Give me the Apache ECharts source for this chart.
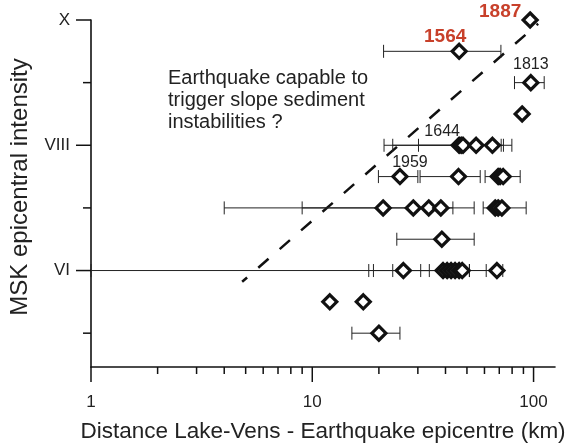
<!DOCTYPE html>
<html><head><meta charset="utf-8">
<script src="https://cdn.jsdelivr.net/npm/echarts/dist/echarts.min.js"></script>
<style>html,body{margin:0;padding:0;background:#fff}#c{width:569px;height:448px}</style>
</head><body><div id="c"></div>
<script>
// ---- axis ranges ----
const X_MIN = 1, X_MAX = 125, Y_MIN = 4.46, Y_MAX = 10;

// ---- observations: MSK intensity, distance (km), distance uncertainty (null = none) ----
const intensity = [10, 9.5, 9, 8.5, 8, 8, 8, 8, 8, 7.5, 7.5, 7.5, 7.5, 7.5, 7, 7, 7, 7, 7, 7, 7, 6.5, 6, 6, 6, 6, 6, 6, 6, 6, 5.5, 5.5, 5];
const distance  = [96.5, 46.1, 97.2, 88.8, 46.1, 47.1, 48.0, 55.0, 65.2, 24.9, 45.8, 69.2, 70.6, 72.9, 20.9, 28.6, 33.6, 38.1, 67.1, 69.2, 71.9, 38.5, 25.8, 39.0, 40.7, 42.4, 44.2, 46.1, 47.6, 68.3, 12.0, 17.0, 20.0];
const distLow   = [null, 21.0, 82.0, null, 21.1, 23.1, null, 30.2, null, 19.9, 30.7, 60.4, null, null, 4.0, 9.0, null, null, null, 59.2, null, 24.1, 18.9, 18.0, null, 23.1, 1.0, 30.9, null, null, null, null, 15.1];
const distHigh  = [null, 71.2, 111.7, null, 79.8, 73.1, null, 71.4, null, 30.0, 57.4, 87.0, null, null, 53.9, 43.2, null, null, null, 92.6, null, 53.9, 33.8, 61.1, null, 51.3, 72.6, 51.3, null, null, null, null, 24.9];

// ---- named events ----
const eventNames     = ['1887', '1564', '1813', '1644', '1959'];
const eventDistance  = [96.5, 46.1, 97.2, 46.1, 24.9];
const eventIntensity = [10, 9.5, 9, 8, 7.5];

// ---- threshold (dashed) line ----
const thresholdDistance  = [4.82, 104.9];
const thresholdIntensity = [5.82, 9.94];

// ---- ticks ----
const xMajorTicks = [1, 10, 100];
const xTickLabels = ['1', '10', '100'];
const xMinorTicks = [2, 3, 4, 5, 6, 7, 8, 9, 20, 30, 40, 50, 60, 70, 80, 90];
const yMajorTicks = [10, 8, 6];
const yTickLabels = ['X', 'VIII', 'VI'];
const yMinorTicks = [9, 7, 5];

// ---- styles ----
const FONT = 'Liberation Sans, Arial, Helvetica, sans-serif';
const INK = '#111';
const TXT = '#222';
const RED = '#c8402a';
const labelStyle = {
  '1887': {color: RED, fontWeight: 'bold', fontSize: 19, offset: [-30, -8]},
  '1564': {color: RED, fontWeight: 'bold', fontSize: 19, offset: [-14, -15]},
  '1813': {color: TXT, fontWeight: 'normal', fontSize: 16, offset: [0, -18]},
  '1644': {color: TXT, fontWeight: 'normal', fontSize: 16, offset: [-17, -14]},
  '1959': {color: TXT, fontWeight: 'normal', fontSize: 16, offset: [10, -14]}
};

const barData = [];
intensity.forEach((y, i) => {
  if (distLow[i] != null) barData.push([distLow[i], distHigh[i], y]);
});
const pointData = intensity.map((y, i) => [distance[i], y]);

function tickSeries(values, len, horizontal) {
  return {
    type: 'custom', silent: true, z: 5,
    data: values.map(v => horizontal ? [X_MIN, v] : [v, Y_MIN]),
    renderItem: (params, api) => {
      const p = api.coord([api.value(0), api.value(1)]);
      return {type: 'line', shape: horizontal
          ? {x1: p[0] - len, y1: p[1], x2: p[0], y2: p[1]}
          : {x1: p[0], y1: p[1], x2: p[0], y2: p[1] + len},
        style: {stroke: INK, lineWidth: 1.5}};
    }
  };
}
function labelSeries(values, labels, horizontal) {
  return {
    type: 'custom', silent: true, z: 5,
    data: values.map((v, i) => horizontal ? [X_MIN, v, i] : [v, Y_MIN, i]),
    renderItem: (params, api) => {
      const p = api.coord([api.value(0), api.value(1)]);
      const t = labels[api.value(2)];
      return {type: 'text', x: horizontal ? p[0] - 21 : p[0], y: horizontal ? p[1] : p[1] + 35,
        style: {text: t, fill: TXT, fontSize: 17, fontFamily: FONT,
          align: horizontal ? 'right' : 'center', verticalAlign: 'middle'}};
    }
  };
}

const chart = echarts.init(document.getElementById('c'), null, {renderer: 'canvas'});
chart.setOption({
  animation: false,
  backgroundColor: '#fff',
  grid: {left: 91, right: 14, top: 20, bottom: 81, containLabel: false, outerBoundsMode: 'none'},
  xAxis: {
    type: 'log', logBase: 10, min: X_MIN, max: X_MAX,
    axisLine: {show: true, onZero: false, lineStyle: {color: INK, width: 1.6}},
    axisTick: {show: false}, axisLabel: {show: false}, splitLine: {show: false},
    name: 'Distance Lake-Vens - Earthquake epicentre (km)', nameLocation: 'middle', nameGap: 53,
    nameTextStyle: {fontSize: 22.5, color: TXT, fontFamily: FONT}
  },
  yAxis: {
    type: 'value', min: Y_MIN, max: Y_MAX,
    axisLine: {show: true, onZero: false, lineStyle: {color: INK, width: 1.6}},
    axisTick: {show: false}, axisLabel: {show: false}, splitLine: {show: false}
  },
  graphic: [{
    type: 'text', left: 168, top: 67, silent: true,
    style: {text: 'Earthquake capable to\ntrigger slope sediment\ninstabilities ?',
      fontSize: 20, fontFamily: FONT, fill: TXT, lineHeight: 22}
  }, {
    type: 'text', x: 20, y: 187, rotation: Math.PI / 2, silent: true,
    style: {text: 'MSK epicentral intensity', fontSize: 24, fontFamily: FONT, fill: TXT,
      align: 'center', verticalAlign: 'middle'}
  }],
  series: [
    tickSeries(xMajorTicks, 15, false),
    tickSeries(xMinorTicks, 7, false),
    tickSeries(yMajorTicks, 15, true),
    tickSeries(yMinorTicks, 8, true),
    labelSeries(xMajorTicks, xTickLabels, false),
    labelSeries(yMajorTicks, yTickLabels, true),
    {
      type: 'line', silent: true, z: 3, symbol: 'none',
      data: thresholdDistance.map((x, i) => [x, thresholdIntensity[i]]),
      lineStyle: {color: INK, width: 2.5, type: [13.6, 14.8], dashOffset: 7}
    },
    {
      type: 'custom', silent: true, z: 4,
      data: barData,
      encode: {x: [0, 1], y: 2},
      renderItem: (params, api) => {
        const a = api.coord([api.value(0), api.value(2)]);
        const b = api.coord([api.value(1), api.value(2)]);
        const h = 6.5;
        const st = {stroke: '#222', lineWidth: 1};
        return {type: 'group', children: [
          {type: 'line', shape: {x1: a[0], y1: a[1], x2: b[0], y2: b[1]}, style: st},
          {type: 'line', shape: {x1: a[0], y1: a[1] - h, x2: a[0], y2: a[1] + h}, style: st},
          {type: 'line', shape: {x1: b[0], y1: b[1] - h, x2: b[0], y2: b[1] + h}, style: st}
        ]};
      }
    },
    {
      type: 'scatter', silent: true, z: 6,
      data: pointData, symbol: 'diamond', symbolSize: 14,
      itemStyle: {color: '#fff', borderColor: INK, borderWidth: 3.2, opacity: 1}
    },
    {
      type: 'custom', silent: true, z: 7,
      data: eventNames.map((n, i) => [eventDistance[i], eventIntensity[i], i]),
      renderItem: (params, api) => {
        const p = api.coord([api.value(0), api.value(1)]);
        const n = eventNames[api.value(2)];
        const s = labelStyle[n];
        return {type: 'text', x: p[0] + s.offset[0], y: p[1] + s.offset[1],
          style: {text: n, fill: s.color, fontSize: s.fontSize, fontWeight: s.fontWeight,
            fontFamily: FONT, align: 'center', verticalAlign: 'middle'}};
      }
    }
  ]
});
</script>
</body></html>
